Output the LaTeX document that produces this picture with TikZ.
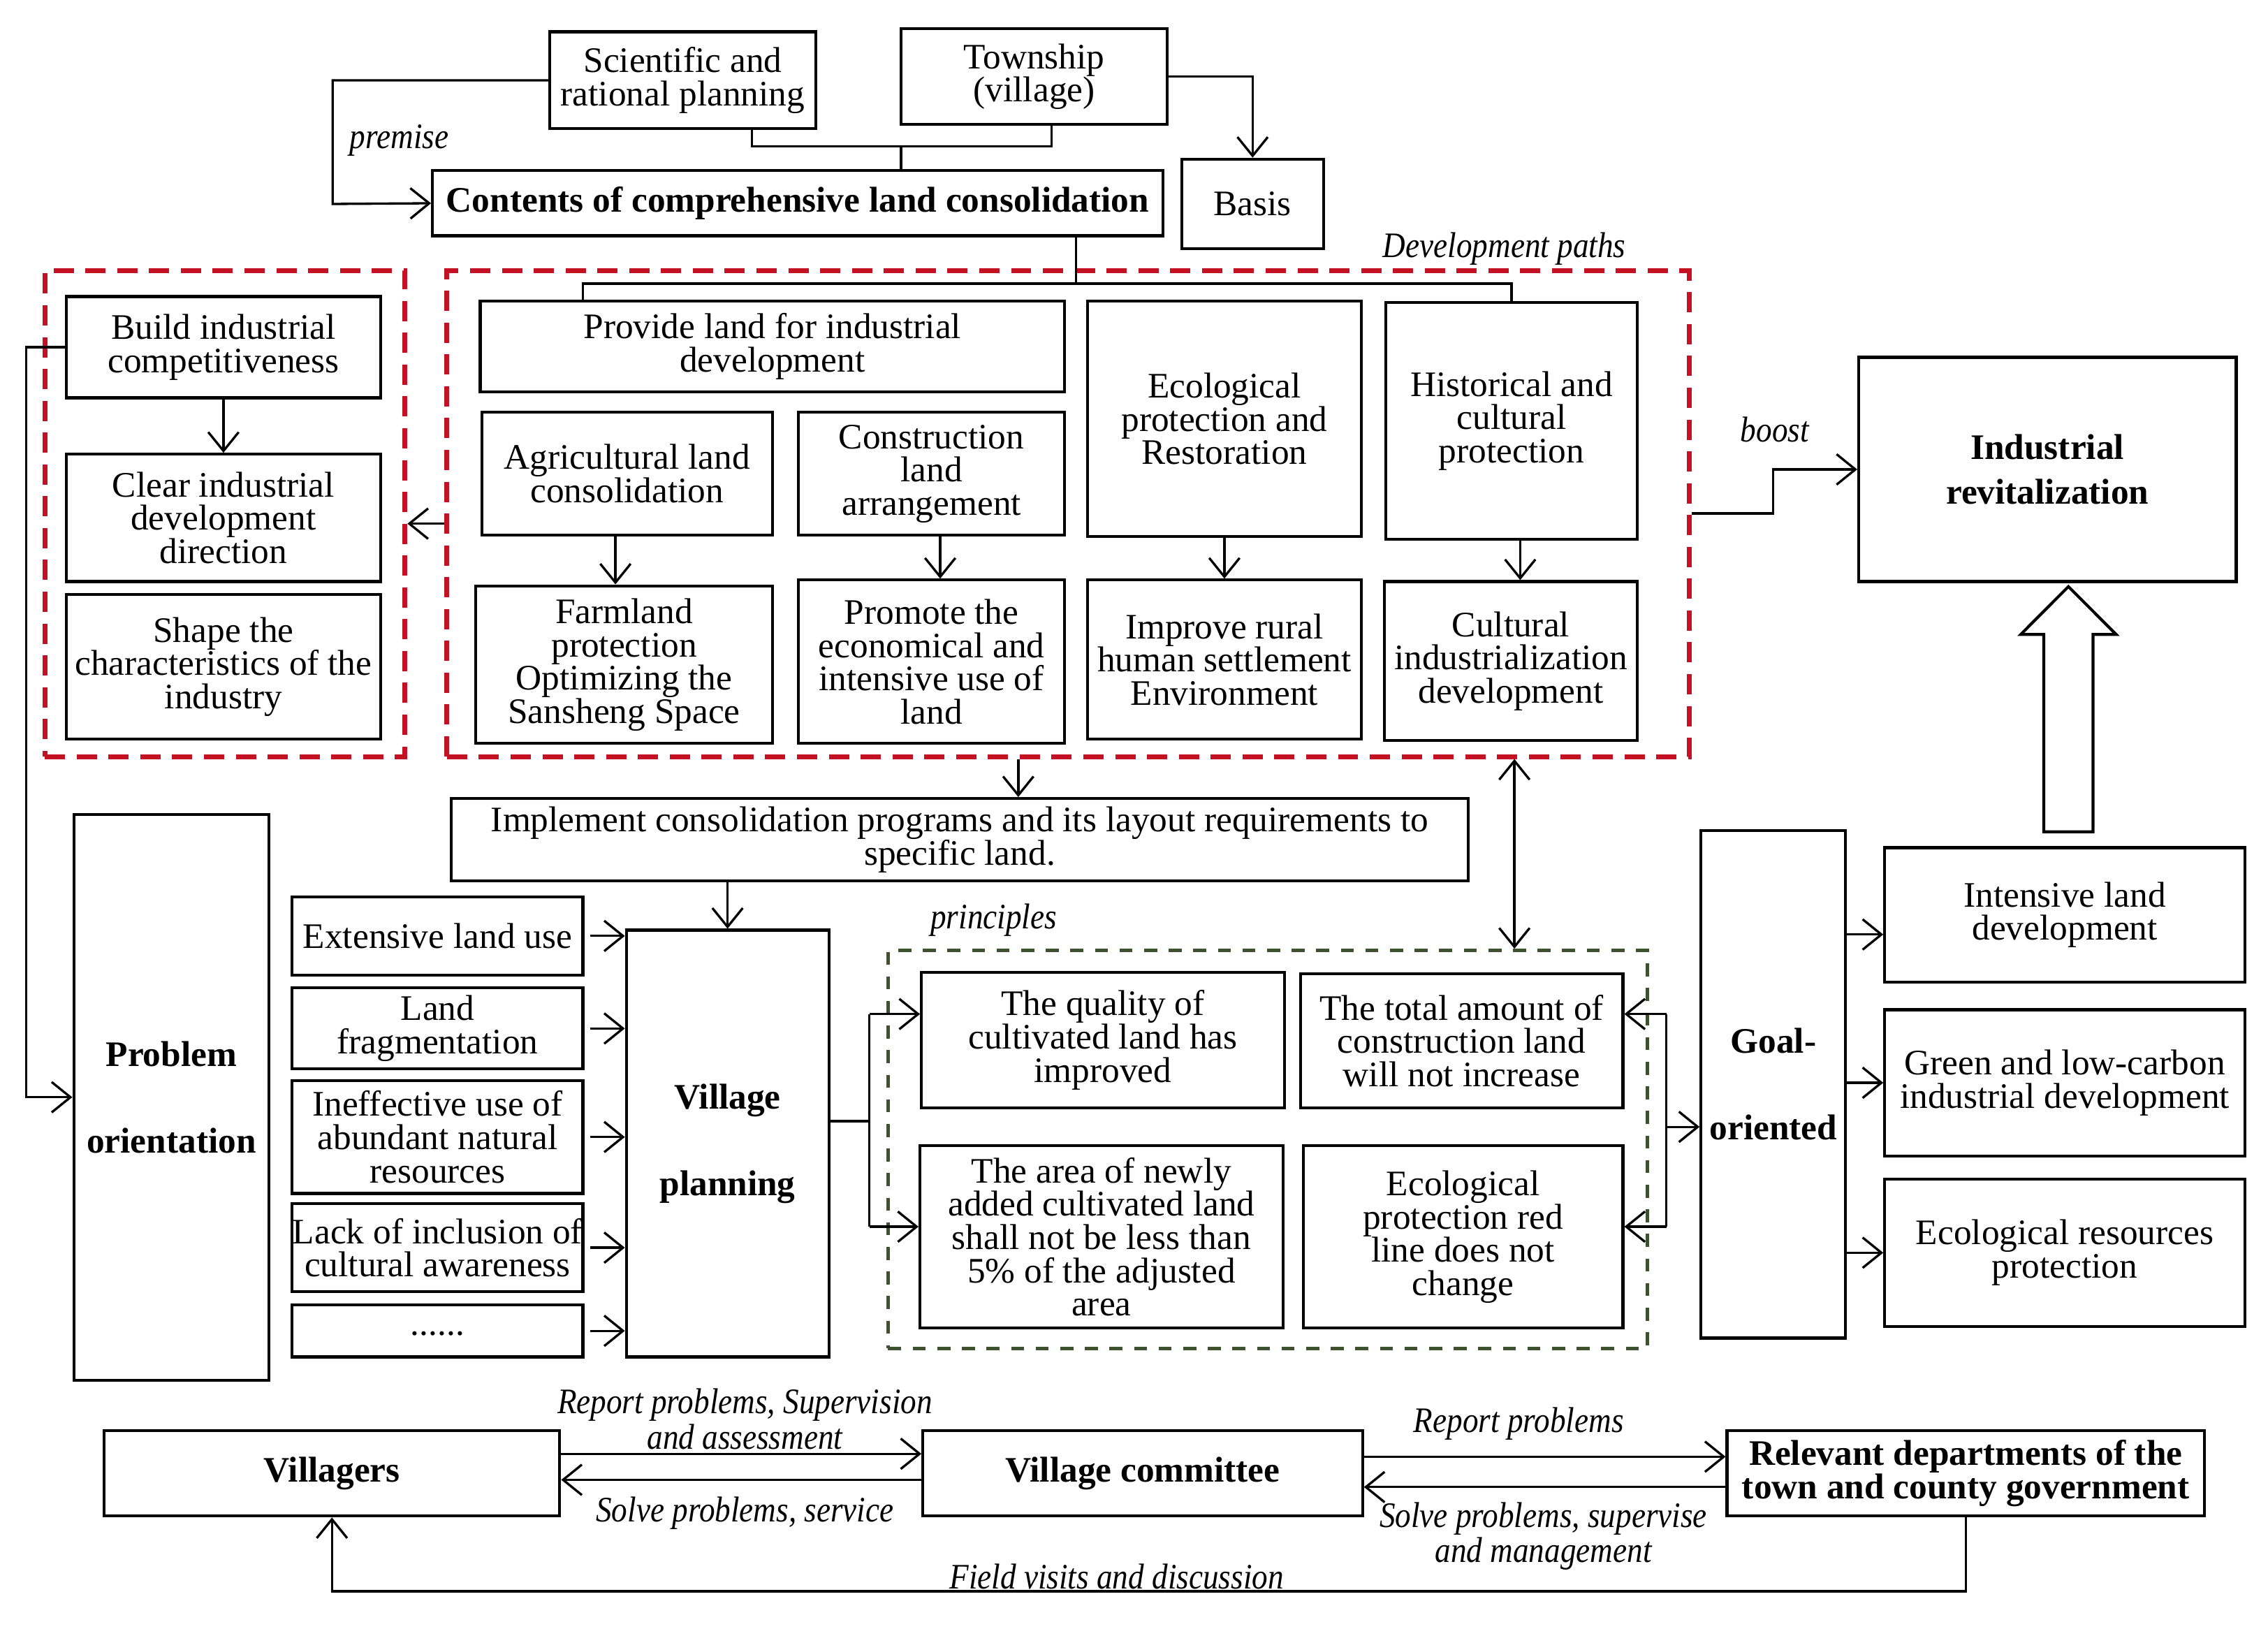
\documentclass[tikz,border=0pt]{standalone}
\usepackage{fontspec}
\setmainfont{Liberation Serif}
\newfontfamily\labfont{Liberation Serif}[FakeStretch=0.88]
\usetikzlibrary{arrows.meta,calc}
\definecolor{dred}{RGB}{196,18,36}
\definecolor{dgreen}{RGB}{62,82,48}
\newcommand\bx[7][]{\node[box,#1,minimum width={(#5-#3)*0.5pt},minimum height={(#6-#4)*0.5pt}] (#2) at ({(#3+#5)/2},{(#4+#6)/2}) {#7};}
\begin{document}
\begin{tikzpicture}[x=0.5pt,y=-0.5pt,
  every node/.style={font=\fontsize{12.4}{11.5}\selectfont},
  box/.style={draw,line width=1pt,align=center,inner sep=0pt},
  bbox/.style={font=\fontsize{12.4}{11.5}\selectfont\bfseries},
  redbox/.style={draw=dred,line width=1.7pt,dash pattern=on 7pt off 4pt},
  grnbox/.style={draw=dgreen,line width=1.2pt,dash pattern=on 4.5pt off 4pt},
  lab/.style={font=\labfont\fontsize{12.4}{10}\selectfont\itshape,align=center,inner sep=0pt},
  arr/.style={line width=0.8pt,-{Straight Barb[length=6.5pt,width=10.5pt,line width=0.8pt]}},
  darr/.style={line width=0.8pt,{Straight Barb[length=6.5pt,width=10.5pt,line width=0.8pt]}-{Straight Barb[length=6.5pt,width=10.5pt,line width=0.8pt]}},
  ln/.style={line width=0.8pt}]
\useasboundingbox (0,0) rectangle (1568,1125.7);

% top
\bx{sci}{380}{22}{564}{89}{Scientific and\\rational planning}
\bx{town}{623}{20}{807}{86}{Township\\(village)}
\bx[bbox]{cont}{299}{118}{804}{163}{Contents of comprehensive land consolidation}
\bx{basis}{817}{110}{915}{172}{Basis}

% red frames
\bx[redbox]{rl}{31}{187}{280}{523}{}
\bx[redbox]{rr}{309}{187}{1168}{523}{}

% left red content
\bx{build}{46}{205}{263}{275}{Build industrial\\competitiveness}
\bx{clear}{46}{314}{263}{402}{Clear industrial\\development\\direction}
\bx{shape}{46}{411}{263}{511}{Shape the\\characteristics of the\\industry}

% right red content
\bx{prov}{332}{208}{736}{271}{Provide land for industrial\\development}
\bx{agri}{333}{285}{534}{370}{Agricultural land\\consolidation}
\bx{constr}{552}{285}{736}{370}{Construction\\land\\arrangement}
\bx{eco}{752}{208}{941}{371}{Ecological\\protection and\\Restoration}
\bx{hist}{958}{209}{1132}{373}{Historical and\\cultural\\protection}
\bx{farm}{329}{405}{534}{514}{Farmland\\protection\\Optimizing the\\Sansheng Space}
\bx{prom}{552}{401}{736}{514}{Promote the\\economical and\\intensive use of\\land}
\bx{impr}{752}{401}{941}{511}{Improve rural\\human settlement\\Environment}
\bx{cult}{957}{402}{1132}{512}{Cultural\\industrialization\\development}

\bx[bbox]{indr}{1285}{247}{1546}{402}{Industrial\\[4pt]revitalization}

% middle
\bx{impl}{312}{552}{1015}{609}{Implement consolidation programs and its layout requirements to\\specific land.}
\bx[bbox]{prob}{51}{563}{186}{954}{Problem\\[18.5pt]orientation}
\bx{p1}{202}{620}{403}{674}{Extensive land use}
\bx{p2}{202}{683}{403}{739}{Land\\fragmentation}
\bx{p3}{202}{747}{403}{825}{Ineffective use of\\abundant natural\\resources}
\bx{p4}{202}{832}{403}{893}{Lack of inclusion of\\cultural awareness}
\bx{p5}{202}{902}{403}{938}{\raisebox{-3pt}{......}}
\bx[bbox]{vil}{433}{643}{573}{938}{Village\\[18.5pt]planning}

\bx[grnbox]{grn}{614}{657}{1139}{932}{}
\bx{q1}{637}{672}{888}{766}{The quality of\\cultivated land has\\improved}
\bx{q2}{899}{673}{1122}{766}{The total amount of\\construction land\\will not increase}
\bx{q3}{636}{792}{887}{918}{The area of newly\\added cultivated land\\shall not be less than\\5\% of the adjusted\\area}
\bx{q4}{901}{792}{1122}{918}{Ecological\\protection red\\line does not\\change}

\bx[bbox]{goal}{1176}{574}{1276}{925}{Goal-\\[18.5pt]oriented}
\bx{g1}{1303}{586}{1552}{679}{Intensive land\\development}
\bx{g2}{1303}{698}{1552}{799}{Green and low-carbon\\industrial development}
\bx{g3}{1303}{815}{1552}{917}{Ecological resources\\protection}

% bottom
\bx[bbox]{vill}{72}{989}{387}{1048}{Villagers}
\bx[bbox]{comm}{638}{989}{942}{1048}{Village committee}
\bx[bbox]{rel}{1194}{989}{1524}{1048}{Relevant departments of the\\town and county government}

% labels
\node[lab] (lpremise) at (276,97) {premise};
\node[lab] (ldev) at (1040,172) {Development paths};
\node[lab] (lboost) at (1227,297) {boost};
\node[lab] (lprin) at (687,636) {principles};
\node[lab] (lrep1) at (515,981) {Report problems, Supervision\\and assessment};
\node[lab] (lsolve1) at (515,1046) {Solve problems, service};
\node[lab] (lrep2) at (1050,984) {Report problems};
\node[lab] (lsolve2) at (1067,1062) {Solve problems, supervise\\and management};
\node[lab] (lfield) at (772,1090) {Field visits and discussion};

% connectors top
\coordinate (pr) at (230,141);
\draw[arr] (sci.west) -| (pr) -- (cont.west);
\coordinate (j1) at (623,101);
\draw[ln] ([xshift=24pt]sci.south) |- (j1) -| ([xshift=6pt]town.south);
\draw[ln] (j1) -- (j1 |- cont.north);
\draw[arr] (town.east) -| (basis.north);
\coordinate (j2) at (744,196);
\draw[ln] ([xshift=96.25pt]cont.south) -- (j2);
\draw[ln] ([xshift=-65.5pt]prov.north) |- (j2) -| (hist.north);

% inside red
\draw[arr] ([xshift=-4pt]agri.south) -- ([xshift=-4pt]agri.south |- farm.north);
\draw[arr] ([xshift=3pt]constr.south) -- ([xshift=3pt]constr.south |- prom.north);
\draw[arr] (eco.south) -- (eco.south |- impr.north);
\draw[arr] ([xshift=3pt]hist.south) -- ([xshift=3pt]hist.south |- cult.north);
\draw[arr] (build.south) -- (clear.north);
\draw[arr] ([yshift=-3.5pt]rr.west) -- ([yshift=-3.5pt]rl.east);

% left loop
\coordinate (lp) at (18,500);
\draw[arr] (build.west) -| (lp) |- (prob.west);

% boost
\coordinate (bs) at (1226,340);
\draw[arr] (rr.east) -| (bs) |- (indr.west);

% hollow arrow
\draw[line width=1pt,fill=white] (1413,575) -- (1413,438.6) -- (1397,438.6) -- (1430,405.5) -- (1463,438.6) -- (1447,438.6) -- (1447,575) -- cycle;

% middle connectors
\draw[arr] ([xshift=-17.25pt]rr.south) -- ([xshift=20.25pt]impl.north);
\draw[arr] (impl.south -| vil.north) -- (vil.north);
\draw[darr] ([xshift=154.25pt]rr.south) -- ([xshift=85.25pt]grn.north);
\foreach \p in {p1,p2,p3,p4,p5}{\draw[arr] ([xshift=2pt]\p.east) -- (\p.east -| vil.west);}

\coordinate (v0) at (601,775);
\coordinate (va) at (601,701);
\coordinate (vb) at (601,848);
\draw[ln] ([yshift=7.75pt]vil.east) -- (v0);
\draw[ln] (va) -- (vb);
\draw[arr] (va) -- (va -| q1.west);
\draw[arr] (vb) -- (vb -| q3.west);

\coordinate (ga) at (1152,701);
\coordinate (gb) at (1152,848);
\coordinate (gm) at (1152,779);
\draw[ln] (ga) -- (gb);
\draw[arr] (ga) -- (ga -| q2.east);
\draw[arr] (gb) -- (gb -| q4.east);
\draw[arr] (gm) -- (gm -| goal.west);

\draw[arr] ([yshift=-6.75pt]goal.east |- g1.west) -- ([yshift=-6.75pt]g1.west);
\draw[arr] (goal.east |- g2.west) -- (g2.west);
\draw[arr] (goal.east |- g3.west) -- (g3.west);

% bottom connectors
\draw[arr] ([yshift=6.75pt]vill.east) -- ([yshift=6.75pt]comm.west);
\draw[arr] ([yshift=-2.25pt]comm.west) -- ([yshift=-2.25pt]vill.east);
\draw[arr] ([yshift=5.75pt]comm.east) -- ([yshift=5.75pt]rel.west);
\draw[arr] ([yshift=-4.75pt]rel.west) -- ([yshift=-4.75pt]comm.east);
\coordinate (fv) at (700,1100);
\draw[arr] (rel.south) |- (fv) -| (vill.south);
\end{tikzpicture}
\end{document}
